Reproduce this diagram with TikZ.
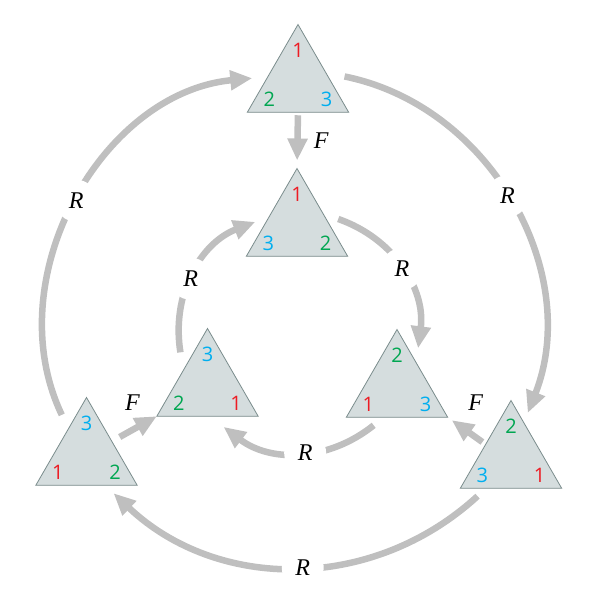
\documentclass[tikz,border=0pt]{standalone}
\usepackage{fontspec}
\newfontfamily\numfont{Open Sans}
\newfontfamily\lblfont{Liberation Serif}
\usetikzlibrary{shapes.geometric,arrows.meta}
\definecolor{trifill}{RGB}{213,221,222}
\definecolor{triline}{RGB}{122,140,140}
\definecolor{arrgray}{RGB}{191,191,191}
\definecolor{cone}{RGB}{237,28,36}
\definecolor{ctwo}{RGB}{0,166,81}
\definecolor{cthree}{RGB}{0,174,239}
\newcommand{\numone}{\textcolor{cone}{1}}
\newcommand{\numtwo}{\textcolor{ctwo}{2}}
\newcommand{\numthree}{\textcolor{cthree}{3}}
% triangle: name, centre, top, left, right
\newcommand{\tri}[5]{
 \node[tribox] (#1) at (#2) {};
 \node[num] (#1t) at ([shift={(90:33)}]#1.center) {#3};
 \node[num] (#1l) at ([shift={(210:33)}]#1.center) {#4};
 \node[num] (#1r) at ([shift={(330:33)}]#1.center) {#5};
}

\begin{document}
\begin{tikzpicture}[x=1pt,y=1pt,
 tribox/.style={regular polygon,regular polygon sides=3,minimum size=117pt,inner sep=0pt,outer sep=0pt,draw=triline,fill=trifill,line width=0.8pt},
 num/.style={font=\numfont\fontsize{20}{20}\selectfont,inner sep=0pt},
 arr/.style={draw=arrgray,line width=6.5pt,-{Triangle[length=22pt,width=19pt]}},
 rlbl/.style={circle,fill=white,minimum size=42pt,inner sep=0pt,text=black,font=\lblfont\fontsize{24}{24}\selectfont\itshape},
 flbl/.style={inner sep=0pt,text=black,font=\lblfont\fontsize{24}{24}\selectfont\itshape}]
\useasboundingbox (0,0) rectangle (598,-598);

\tri{TO}{298,-83}{\numone}{\numtwo}{\numthree}
\tri{TI}{297,-227}{\numone}{\numthree}{\numtwo}
\tri{LI}{207.5,-387}{\numthree}{\numtwo}{\numone}
\tri{RI}{397,-388}{\numtwo}{\numone}{\numthree}
\tri{LO}{86.5,-456}{\numthree}{\numone}{\numtwo}
\tri{RO}{511,-459}{\numtwo}{\numthree}{\numone}

% outer ring
\draw[arr] ([shift={(121:48)}]LO.center) to[bend left=55] node[rlbl,pos=.5] (R1) {R} ([shift={(174:46)}]TO.center);
\draw[arr] ([shift={(8:47)}]TO.center) to[bend left=50] node[rlbl,pos=.48] (R2) {R} ([shift={(70:49)}]RO.center);
\draw[arr] ([shift={(228:50)}]RO.center) to[bend left=43] node[rlbl,pos=.48] (R3) {R} ([shift={(306:46)}]LO.center);
% inner ring
\draw[arr] ([shift={(128:44)}]LI.center) to[bend left=39] node[rlbl,pos=.46] (R4) {R} ([shift={(173:42)}]TI.center);
\draw[arr] ([shift={(11:42)}]TI.center) to[bend left=39] node[rlbl] (R5) {R} ([shift={(62:45)}]RI.center);
\draw[arr] ([shift={(238:44)}]RI.center) to[bend left=38] node[rlbl,pos=.46] (R6) {R} ([shift={(292:43)}]LI.center);

\draw[arr,shorten <=3pt,shorten >=8pt] (TO.south) -- (TI.north) node[flbl,midway,right=13pt] (F1) {F};
\draw[arr,shorten <=9pt] (LO.30) -- (LI.corner 2) node[flbl,midway,above=15pt,xshift=-2pt] (F2) {F};
\draw[arr,shorten <=4pt,shorten >=5pt] (RO.150) -- (RI.corner 3) node[flbl,midway,above=17pt,xshift=9pt] (F3) {F};
\end{tikzpicture}
\end{document}
